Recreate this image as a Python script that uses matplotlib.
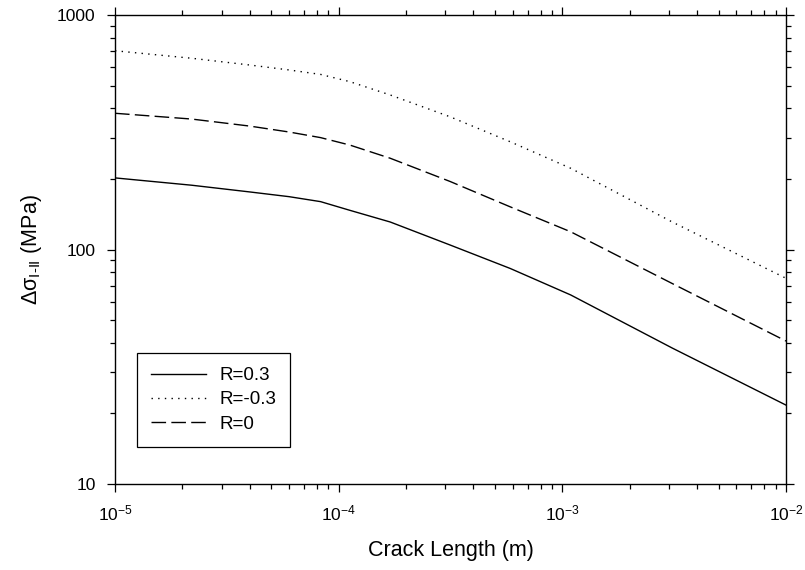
import matplotlib
matplotlib.use('Agg')
import matplotlib.pyplot as plt
from matplotlib.ticker import LogLocator, NullFormatter, FixedLocator

plt.rcParams['font.family'] = ['Liberation Sans', 'DejaVu Sans']
plt.rcParams['mathtext.fontset'] = 'custom'
plt.rcParams['mathtext.rm'] = 'Liberation Sans'
plt.rcParams['mathtext.it'] = 'Liberation Sans:italic'

# crack length (m)
crack = [1e-5, 2.2e-5, 4e-5, 6e-5, 8.3e-5, 1.12e-4, 1.7e-4, 3.15e-4, 5.85e-4, 1.09e-3, 3.1e-3, 1e-2]

r_03 = [202, 188, 176, 168, 160, 147, 131, 104.5, 83, 64, 38, 21.7]
r_m03 = [704, 654, 612, 583, 558, 520, 456, 368, 288, 222, 131, 75.4]
r_0 = [381, 360, 336, 317, 300, 279, 245, 195, 152, 119, 71.6, 40.7]

labels = ['R=0.3', 'R=-0.3', 'R=0']

fig = plt.figure(figsize=(8.05, 5.7), dpi=100)
ax = fig.add_axes([115/805, 1-484/570, 671/805, 469/570])

ax.plot(crack, r_03, color='black', lw=1.0, ls='-', label=labels[0])
ax.plot(crack, r_m03, color='black', lw=1.0, ls=(0, (1, 3.8)), label=labels[1])
ax.plot(crack, r_0, color='black', lw=1.0, ls=(0, (10.5, 3.8)), label=labels[2])

ax.set_xscale('log')
ax.set_yscale('log')
ax.set_xlim(1e-5, 1e-2)
ax.set_ylim(10, 1000)

ax.xaxis.set_major_locator(FixedLocator([1e-5, 1e-4, 1e-3, 1e-2]))
ax.set_xticklabels([r'$\mathregular{10^{-5}}$', r'$\mathregular{10^{-4}}$',
                    r'$\mathregular{10^{-3}}$', r'$\mathregular{10^{-2}}$'])
ax.xaxis.set_minor_locator(LogLocator(base=10, subs=range(2, 10)))
ax.xaxis.set_minor_formatter(NullFormatter())

ax.yaxis.set_major_locator(FixedLocator([10, 100, 1000]))
ax.set_yticklabels(['10', '100', '1000'])
ax.yaxis.set_minor_locator(LogLocator(base=10, subs=range(2, 10)))
ax.yaxis.set_minor_formatter(NullFormatter())

ax.tick_params(which='both', direction='out', top=True, right=True, labelsize=12.5, width=0.9)
ax.tick_params(which='major', length=6, pad=8)
ax.tick_params(which='minor', length=3.3)
for s in ax.spines.values():
    s.set_linewidth(1.0)

ax.set_xlabel('Crack Length (m)', fontsize=15.5, labelpad=12)
ax.set_ylabel('\u0394\u03c3$\\mathregular{_{I\u2010II}}$ (MPa)', fontsize=15.5, labelpad=9)

leg = ax.legend(loc='lower left', bbox_to_anchor=(0.0332, 0.0795), borderaxespad=0,
                fontsize=13.5, frameon=True, fancybox=False, edgecolor='black',
                handlelength=2.9, handletextpad=0.72, labelspacing=0.38, borderpad=0.75)
leg.get_frame().set_linewidth(0.9)
leg.get_frame().set_alpha(1)

fig.savefig('out.png', dpi=100)
